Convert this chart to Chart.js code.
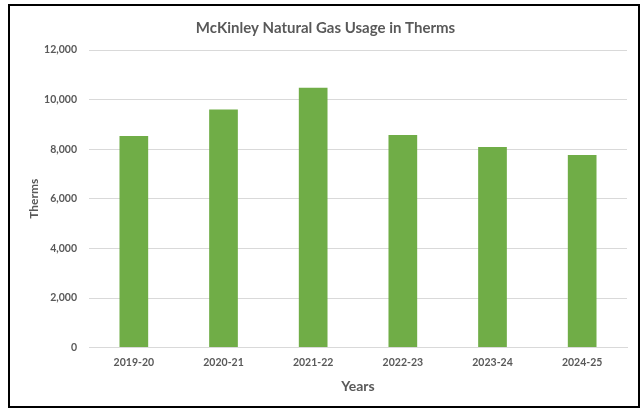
<!DOCTYPE html>
<html>
<head>
<meta charset="utf-8">
<script src="https://cdn.jsdelivr.net/npm/chart.js@4/dist/chart.umd.min.js"></script>
<style>
  html, body { margin: 0; padding: 0; background: #fff; }
  #box {
    position: absolute; left: 8px; top: 4px;
    width: 632px; height: 404px;
    box-sizing: border-box; border: 2px solid #000; background: #fff;
  }
  #myChart { display: block; }
</style>
</head>
<body>
<div id="box"><canvas id="myChart" width="628" height="400"></canvas></div>
<script>
/* Data */
const years = ['2019-20', '2020-21', '2021-22', '2022-23', '2023-24', '2024-25'];
const therms = [8530, 9600, 10480, 8570, 8090, 7770];

/* Style */
let colorGreen = '#70AD47';
let colorText = '#595959';
let colorGrid = '#D9D9D9';
const fontFamily = 'Lato, "Open Sans", sans-serif';

const data = {
  labels: years,
  datasets: [
    {
      label: 'Therms',
      data: therms,
      backgroundColor: colorGreen,
      barPercentage: 0.32,
      categoryPercentage: 1,
    },
  ],
};

const chartConfig = {
  type: 'bar',
  data,
  options: {
    responsive: false,
    animation: false,
    layout: { padding: { top: 13, right: 11, left: 14, bottom: 11 } },
    plugins: {
      legend: { display: false },
      tooltip: { enabled: false },
      title: {
        display: true,
        text: 'McKinley Natural Gas Usage in Therms',
        color: colorText,
        font: { family: fontFamily, size: 15, weight: 'bold' },
        padding: { top: 0, bottom: 13 },
      },
    },
    scales: {
      x: {
        grid: { display: false, drawTicks: false },
        border: { color: colorGrid },
        ticks: {
          color: colorText,
          font: { family: fontFamily, size: 10.5, weight: 'bold' },
          padding: 9,
          maxRotation: 0,
        },
        title: {
          display: true,
          text: 'Years',
          color: colorText,
          font: { family: fontFamily, size: 14, weight: 'bold' },
          padding: { top: 0, bottom: 0 },
        },
      },
      y: {
        min: 0,
        max: 12000,
        afterFit: (scale) => { scale.width = 65; },
        grid: { color: colorGrid, drawTicks: false },
        border: { display: false },
        ticks: {
          stepSize: 2000,
          color: colorText,
          font: { family: fontFamily, size: 10.5, weight: 'bold' },
          padding: 12,
          callback: (v) => v.toLocaleString('en-US'),
        },
        title: {
          display: true,
          text: 'Therms',
          color: colorText,
          font: { family: fontFamily, size: 12, weight: 'bold' },
          padding: { top: 3, bottom: 0 },
        },
      },
    },
  },
};

const ctx = document.getElementById('myChart').getContext('2d');
const myChart = new Chart(ctx, chartConfig);
</script>
</body>
</html>
